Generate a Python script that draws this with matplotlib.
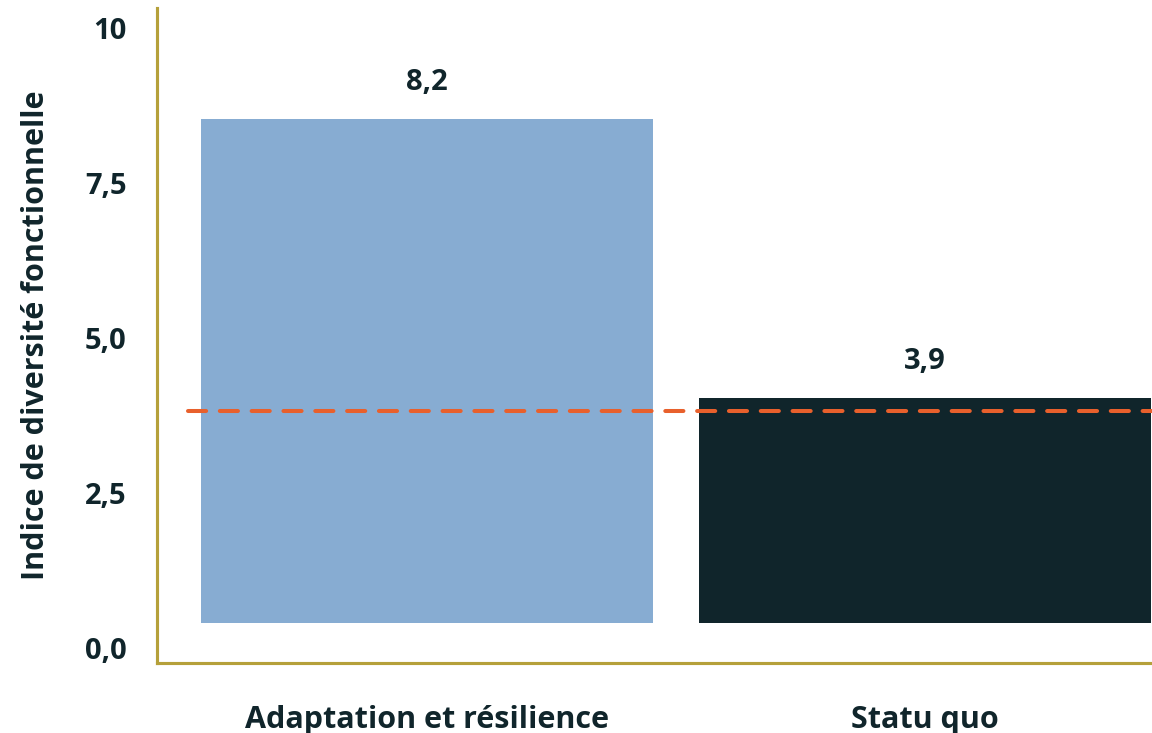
import numpy as np
import matplotlib
matplotlib.use("Agg")
import matplotlib.pyplot as plt

# data
categories = ["Adaptation et résilience", "Statu quo"]
values = [8.2, 3.9]
value_labels = ["8,2", "3,9"]
reference = 3.7
yticks = [0, 2.5, 5, 7.5, 10]
ytick_labels = ["0,0", "2,5", "5,0", "7,5", "10"]

dark = "#10252b"
bar_colors = ["#87acd2", dark]
gold = "#b5a03a"
orange = "#e8602c"

plt.rcParams['font.family'] = ['Open Sans', 'DejaVu Sans']
plt.rcParams['font.weight'] = 'bold'

fig = plt.figure(figsize=(11.52, 7.33), dpi=100)
ax = fig.add_axes([157/1152, 1-663/733, 1-157/1152, (663-8)/733])
ax2 = ax.twinx()

x = np.arange(len(categories))
ax.set_xlim(-0.543, 1.457)
ax.set_ylim(-0.24, 10.32)
ax2.set_ylim(-0.185, 9.91)

base = 0.43
ax2.bar(x, np.array(values) - base, bottom=base, width=0.909, color=bar_colors, zorder=2)
for xi, v, lab in zip(x, values, value_labels):
    ax2.annotate(lab, (xi, v), xytext=(0, 16), textcoords="offset points",
                 ha="center", va="bottom", fontsize=21, fontweight="bold", color=dark)
ax2.hlines(reference, -0.48, 1.457, colors=orange, linewidth=2.9,
           linestyles=(0, (4.5, 3.4)), capstyle="round", zorder=3)

ax.set_yticks(yticks)
ax.set_yticklabels(ytick_labels, fontsize=21, fontweight="bold", color=dark)
ax.set_xticks(x)
ax.set_xticklabels(categories, fontsize=22, fontweight="bold", color=dark)
ax.tick_params(axis="y", length=0, pad=22)
ax.tick_params(axis="x", length=0, pad=30)
ax.set_ylabel("Indice de diversité fonctionnelle", fontsize=22, fontweight="bold",
              color=dark, labelpad=24)
ax2.set_yticks([])

for a in (ax, ax2):
    for s in ("top", "right"):
        a.spines[s].set_visible(False)
    a.spines["left"].set_color(gold)
    a.spines["bottom"].set_color(gold)
    a.spines["left"].set_linewidth(2.2)
    a.spines["bottom"].set_linewidth(2.2)

fig.savefig("out.png", dpi=100)
